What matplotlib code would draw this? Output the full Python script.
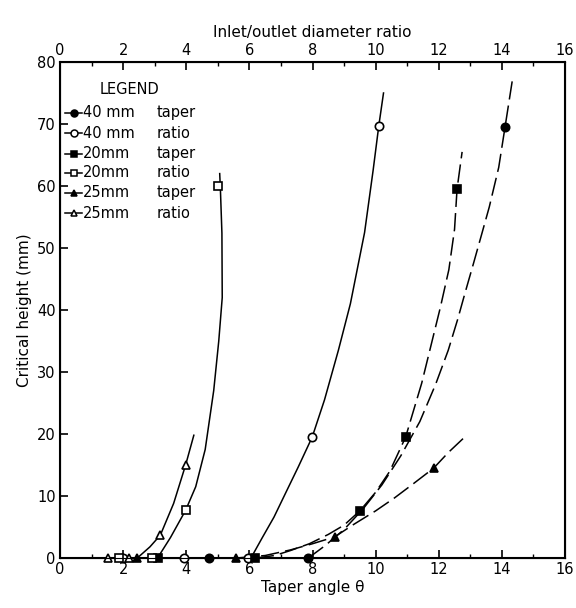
import numpy as np
import matplotlib
matplotlib.use("Agg")
import matplotlib.pyplot as plt

# markers (x = taper angle / diameter ratio, y = critical height mm)
f40_x = [4.71, 7.87, 14.1]
f40_y = [0, 0, 69.5]
o40_x = [2.0, 3.92, 5.95, 7.99, 10.1]
o40_y = [0, 0, 0, 19.5, 69.7]
f20_x = [3.12, 6.18, 9.5, 10.95, 12.58]
f20_y = [0, 0, 7.6, 19.5, 59.5]
o20_x = [1.88, 2.93, 3.98, 5.0]
o20_y = [0, 0, 7.7, 60]
f25_x = [2.45, 5.57, 8.7, 11.84]
f25_y = [0, 0, 3.4, 14.5]
o25_x = [1.53, 2.2, 3.18, 3.98]
o25_y = [0, 0, 3.7, 15]

# hand drawn curves
c40r_x = [6.05, 6.4, 6.78, 7.15, 7.55, 7.99, 8.38, 8.82, 9.2, 9.65, 9.92, 10.1, 10.25]
c40r_y = [0, 3.2, 6.6, 10.5, 14.7, 19.5, 25.5, 33.5, 41, 52.5, 62.5, 69.7, 75]
c20r_x = [3.09, 3.5, 3.98, 4.3, 4.6, 4.87, 5.03, 5.14, 5.13, 5.08, 5.06]
c20r_y = [0, 3.3, 7.7, 11.5, 17.5, 27, 35, 42, 52.4, 59.8, 62]
c25r_x = [2.45, 2.85, 3.18, 3.6, 3.98, 4.24]
c25r_y = [0, 1.8, 3.7, 8.8, 15, 19.8]

c40t_x = [7.87, 8.4, 9.0, 9.6, 10.2, 10.8, 11.4, 11.9, 12.3, 12.6, 12.83, 13.1, 13.37, 13.6, 13.9, 14.1, 14.33]
c40t_y = [0, 2.0, 4.6, 7.9, 11.8, 16.5, 22, 28, 33.5, 38.5, 42.7, 47.5, 52.4, 56.6, 63, 69.5, 77]
c20t_x = [6.2, 6.8, 7.3, 7.9, 8.5, 9.0, 9.5, 10.0, 10.45, 10.95, 11.46, 12.05, 12.32, 12.5, 12.58, 12.74]
c20t_y = [0, 0.4, 1.2, 2.3, 3.8, 5.3, 7.6, 10.6, 14, 19.5, 28.2, 40.4, 46.5, 53, 59.5, 65.5]
c25t_x = [5.6, 6.5, 7.3, 8.0, 8.7, 9.3, 10.0, 10.6, 11.2, 11.84, 12.3, 12.8]
c25t_y = [0, 0.4, 1.3, 2.3, 3.4, 5.4, 7.6, 9.7, 12, 14.5, 17, 19.4]

legend_sizes = ["40 mm", "40 mm", "20mm", "20mm", "25mm", "25mm"]
legend_kinds = ["taper", "ratio", "taper", "ratio", "taper", "ratio"]

plt.rcParams['font.family'] = ['DejaVu Sans']

fig = plt.figure(figsize=(5.76, 6.08), dpi=100)
ax = fig.add_axes([60/576, 50/608, 505/576, 496/608])

k = dict(color='black', lw=1.1)
dash = (0, (12, 4))
ax.plot(c40r_x, c40r_y, **k)
ax.plot(c20r_x, c20r_y, **k)
ax.plot(c25r_x, c25r_y, **k)
ax.plot(c40t_x, c40t_y, linestyle=dash, **k)
ax.plot(c20t_x, c20t_y, linestyle=dash, **k)
ax.plot(c25t_x, c25t_y, linestyle=dash, **k)

ms = 6
styles = [
    (f40_x, f40_y, 'o', 'black'),
    (o40_x, o40_y, 'o', 'white'),
    (f20_x, f20_y, 's', 'black'),
    (o20_x, o20_y, 's', 'white'),
    (f25_x, f25_y, '^', 'black'),
    (o25_x, o25_y, '^', 'white'),
]
for xs, ys, m, fc in styles:
    ax.plot(xs, ys, linestyle='none', marker=m, ms=ms, mfc=fc, mec='black',
            mew=1.2, clip_on=False, zorder=5)

# hand made legend
ax.text(1.27, 75.5, "LEGEND", fontsize=10.5, va='center', ha='left')
rows_y = [71.8, 68.5, 65.2, 62.1, 58.9, 55.6]
for i, (xs, ys, m, fc) in enumerate(styles):
    yy = rows_y[i]
    ax.plot([0.15, 0.7], [yy, yy], color='black', lw=1.1)
    ax.plot([0.45], [yy], marker=m, ms=5, mfc=fc, mec='black', mew=1.1)
    ax.text(0.72, yy, legend_sizes[i], fontsize=10.5, va='center', ha='left')
    ax.text(3.05, yy, legend_kinds[i], fontsize=10.5, va='center', ha='left')

ax.set_xlim(0, 16)
ax.set_ylim(0, 80)
ax.set_xticks(np.arange(0, 17, 2))
ax.set_xticks(np.arange(0, 17, 1), minor=True)
ax.set_yticks(np.arange(0, 81, 10))
ax.tick_params(direction='in', length=6, width=1.2, labelsize=10.5, pad=3)
ax.tick_params(which='minor', direction='in', length=3, width=1)
ax.set_xlabel("Taper angle θ", fontsize=11, labelpad=2)
ax.set_ylabel("Critical height (mm)", fontsize=11, labelpad=4)
for s in ax.spines.values():
    s.set_linewidth(1.5)

ax2 = ax.twiny()
ax2.set_xlim(0, 16)
ax2.set_xticks(np.arange(0, 17, 2))
ax2.set_xticks(np.arange(0, 17, 1), minor=True)
ax2.tick_params(direction='in', length=6, width=1.2, labelsize=10.5, pad=3)
ax2.tick_params(which='minor', direction='in', length=3, width=1)
ax2.set_xlabel("Inlet/outlet diameter ratio", fontsize=11, labelpad=4)

fig.savefig("out.png", dpi=100)
